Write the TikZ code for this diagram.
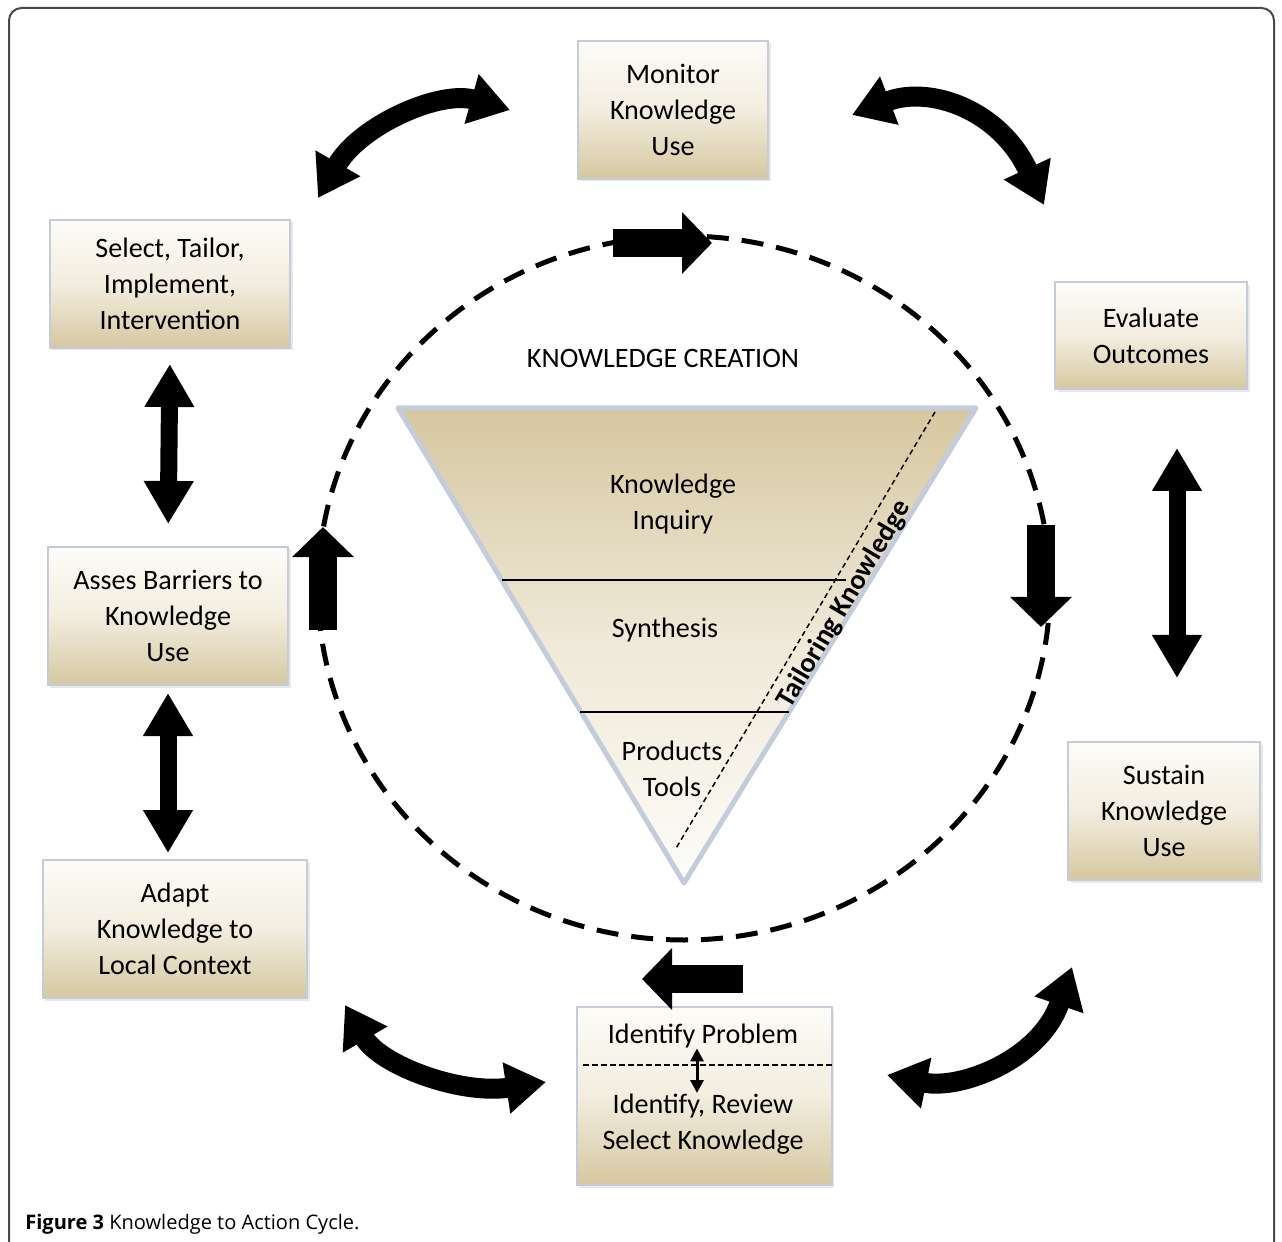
\documentclass[tikz,border=0pt]{standalone}
\usepackage{fontspec}
\setmainfont{Carlito}
\newfontfamily\capfont{Open Sans}
\usetikzlibrary{arrows.meta, shadows}
\usepackage{xcolor}

\definecolor{tanbot}{HTML}{D6C7A0}
\definecolor{tanmid}{HTML}{F2EDDF}
\definecolor{tantop}{HTML}{FDFCF8}
\definecolor{boxline}{HTML}{C4CCDC}
\definecolor{framegray}{HTML}{4A4A4A}

\tikzset{
  stage/.style={draw=boxline, line width=0.4mm, top color=tantop, bottom color=tanbot,
    middle color=tanmid, align=center, inner sep=0pt,
    font=\fontsize{16}{20.5}\selectfont,
    drop shadow={opacity=0.18, shadow xshift=0.5mm, shadow yshift=-0.5mm}},
  label/.style={align=center, inner sep=0pt, font=\fontsize{16}{20.5}\selectfont},
  swing/.style={line width=4mm, {Triangle[width=9.8mm,length=8mm]}-{Triangle[width=9.8mm,length=8mm]}},
  updown/.style={line width=3.4mm, {Triangle[width=9.4mm,length=8.6mm]}-{Triangle[width=9.4mm,length=8.6mm]}},
  flow/.style={line width=5.6mm, -{Triangle[width=12mm,length=6mm]}},
}

\begin{document}
\begin{tikzpicture}[x=0.2mm, y=-0.2mm]
    \useasboundingbox (0,0) rectangle (1282,1242);
    % outer frame
    \draw[framegray, line width=0.4mm, rounded corners=2.5mm] (9,1260) -- (9,8) -- (1274,8) -- (1274,1260);

    % dashed cycle round the funnel
    \draw[line width=1mm, dash pattern=on 4.4mm off 2.6mm] (684,588) ellipse [x radius=366, y radius=352];

    % the funnel
    \coordinate (ftl) at (398,408);
    \coordinate (ftr) at (976,408);
    \coordinate (fap) at (684,883);
    \fill[top color=tanbot, bottom color=tantop, middle color=tanmid!90!tanbot] (ftl) -- (ftr) -- (fap) -- cycle;
    \draw[boxline, line width=1mm, line join=round] (ftl) -- (ftr) -- (fap) -- cycle;
    \draw[thick] (502,580) -- (846,580);
    \draw[thick] (580,712) -- (789,712);
    \coordinate (tka) at (935,412);
    \coordinate (tkb) at (675,850);
    \draw[line width=0.3mm, densely dashed] (tka) -- (tkb);
    \node[label] (inquiry) at (673,504) {Knowledge\\Inquiry};
    \node[label] (synth) at (665,630) {Synthesis};
    \node[label] (prod) at (672,769) {Products\\Tools};
    \node[label, font=\fontsize{16}{18}\bfseries, rotate=59.3, anchor=north, inner sep=1pt] (tailor) at (832,597) {Tailoring Knowledge};
    \node[label] (creation) at (663,358) {KNOWLEDGE CREATION};

    % stages of the action cycle
    \node[stage, minimum width=38mm, minimum height=27.6mm] (monitor) at (673,110) {Monitor\\Knowledge\\Use};
    \node[stage, minimum width=48mm, minimum height=25.6mm] (select) at (170,284) {Select, Tailor,\\Implement,\\Intervention};
    \node[stage, minimum width=38.4mm, minimum height=21.4mm] (evaluate) at (1151,336) {Evaluate\\Outcomes};
    \node[stage, minimum width=48mm, minimum height=27.6mm] (barriers) at (168,616) {Asses Barriers to\\Knowledge\\Use};
    \node[stage, minimum width=38.4mm, minimum height=27.6mm] (sustain) at (1164,811) {Sustain\\Knowledge\\Use};
    \node[stage, minimum width=52.8mm, minimum height=27.6mm] (adapt) at (175,929) {Adapt\\Knowledge to\\Local Context};
    \node[stage, minimum width=51mm, minimum height=35.6mm] (identify) at (704,1096) {};
    \node[label] (problem) at (703,1036) {Identify Problem};
    \node[label] (review) at (703,1124) {Identify, Review\\Select Knowledge};
    \draw[line width=0.5mm, dash pattern=on 1.2mm off 0.6mm] (583,1065) -- (identify.east |- 0,1065);
    \draw[line width=0.6mm, {Triangle[width=2.6mm,length=2.6mm]}-{Triangle[width=2.6mm,length=2.6mm]}] (problem.south -| 697,0) -- (697,1093);

    % straight double arrows
    \draw[updown, shorten <=3mm, shorten >=4.4mm] (select.south) -- (barriers.north);
    \draw[updown, shorten <=1.4mm, shorten >=1.2mm] (barriers.south) -- (adapt.north -| barriers.south);
    \draw[updown] (1177,448) -- (1177,678);

    % curved double arrows between corners
    \coordinate (swa) at (318,198);
    \coordinate (swb) at (510,110);
    \draw[swing] (swa) .. controls (360,125) and (440,90) .. (swb);
    \coordinate (swc) at (852,115);
    \coordinate (swd) at (1044,205);
    \draw[swing] (swc) .. controls (930,85) and (1000,110) .. (swd);
    \coordinate (swe) at (345,1005);
    \coordinate (swf) at (546,1082);
    \draw[swing] (swe) .. controls (380,1065) and (460,1095) .. (swf);
    \coordinate (swg) at (887,1075);
    \coordinate (swh) at (1072,967);
    \draw[swing] (swg) .. controls (960,1090) and (1040,1060) .. (swh);

    % block arrows on the dashed cycle
    \coordinate (fla) at (613,243);
    \coordinate (flb) at (712,243);
    \draw[flow] (fla) -- (flb);
    \coordinate (flc) at (1041,525);
    \coordinate (fld) at (1041,627);
    \draw[flow] (flc) -- (fld);
    \coordinate (fle) at (743,979);
    \coordinate (flf) at (642,979);
    \draw[flow] (fle) -- (flf);
    \coordinate (flg) at (323,630);
    \coordinate (flh) at (323,527);
    \draw[flow] (flg) -- (flh);

    % caption
    \node[anchor=base west, inner sep=0pt, font=\capfont\fontsize{11.4}{13}\selectfont] (caption) at (25,1229)
        {\textbf{Figure 3} Knowledge to Action Cycle.};
\end{tikzpicture}
\end{document}
